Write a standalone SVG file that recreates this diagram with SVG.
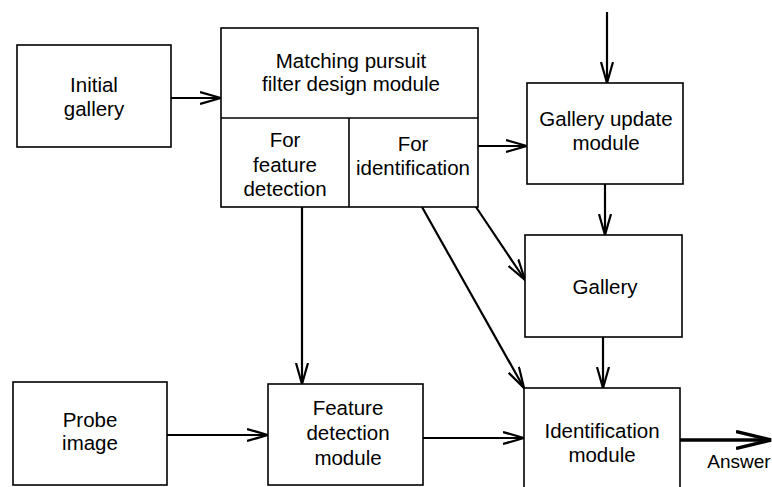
<svg xmlns="http://www.w3.org/2000/svg" width="772" height="487" viewBox="0 0 772 487">
  <style>
    .box { fill: #fff; stroke: #000; stroke-width: 1.6; }
    .lbl { font-family: "Liberation Sans", Arial, sans-serif; font-size: 20.5px; fill: #000; text-anchor: middle; }
    .edge { fill: none; stroke: #000; stroke-width: 2.2; marker-end: url(#head); }
    .edge-bold { fill: none; stroke: #000; stroke-width: 3.4; marker-end: url(#headBold); }
  </style>
  <defs>
    <marker id="head" viewBox="0 0 22 14" refX="21" refY="7" markerWidth="22" markerHeight="14" markerUnits="userSpaceOnUse" orient="auto">
      <path d="M0,1 L21,7 L0,13" fill="none" stroke="#000" stroke-width="2.2"/>
    </marker>
    <marker id="headBold" viewBox="0 0 36 20" refX="35" refY="10" markerWidth="36" markerHeight="20" markerUnits="userSpaceOnUse" orient="auto">
      <path d="M0,1.5 L35,10 L0,18.5" fill="none" stroke="#000" stroke-width="3.4"/>
    </marker>
  </defs>

  <!-- connectors -->
  <g id="connectors">
    <line class="edge" x1="171" y1="98" x2="221" y2="98"/>
    <line class="edge" x1="478" y1="146" x2="527" y2="146"/>
    <line class="edge" x1="607" y1="12" x2="607" y2="83"/>
    <line class="edge" x1="605" y1="184" x2="605" y2="235"/>
    <line class="edge" x1="603" y1="337" x2="603" y2="388"/>
    <line class="edge" x1="302" y1="207" x2="302" y2="384"/>
    <line class="edge" x1="422" y1="207" x2="524" y2="388"/>
    <line class="edge" x1="476" y1="207" x2="525" y2="280"/>
    <line class="edge" x1="167" y1="435" x2="268" y2="435"/>
    <line class="edge" x1="423" y1="438" x2="524" y2="438"/>
    <line class="edge-bold" x1="680" y1="440" x2="771" y2="440"/>
  </g>

  <!-- nodes -->
  <g id="initial-gallery">
    <rect class="box" x="17" y="45" width="154" height="102"/>
    <text class="lbl" x="94" y="92">Initial</text>
    <text class="lbl" x="94" y="116">gallery</text>
  </g>

  <g id="mp-filter-design">
    <rect class="box" x="221" y="28" width="257" height="179"/>
    <line x1="221" y1="118" x2="478" y2="118" stroke="#000" stroke-width="1.6"/>
    <line x1="349" y1="118" x2="349" y2="207" stroke="#000" stroke-width="1.6"/>
    <text class="lbl" x="351" y="68">Matching pursuit</text>
    <text class="lbl" x="351" y="91">filter design module</text>
  </g>

  <g id="for-feature-detection">
    <text class="lbl" x="285" y="147">For</text>
    <text class="lbl" x="285" y="172">feature</text>
    <text class="lbl" x="285" y="196">detection</text>
  </g>

  <g id="for-identification">
    <text class="lbl" x="413" y="151">For</text>
    <text class="lbl" x="413" y="175">identification</text>
  </g>

  <g id="gallery-update">
    <rect class="box" x="527" y="83" width="156" height="101"/>
    <text class="lbl" x="606" y="126">Gallery update</text>
    <text class="lbl" x="606" y="150">module</text>
  </g>

  <g id="gallery">
    <rect class="box" x="525" y="235" width="157" height="102"/>
    <text class="lbl" x="605" y="294">Gallery</text>
  </g>

  <g id="probe-image">
    <rect class="box" x="13" y="382" width="154" height="103"/>
    <text class="lbl" x="90" y="427">Probe</text>
    <text class="lbl" x="90" y="450">image</text>
  </g>

  <g id="feature-detection">
    <rect class="box" x="268" y="384" width="155" height="101"/>
    <text class="lbl" x="348" y="415">Feature</text>
    <text class="lbl" x="348" y="440">detection</text>
    <text class="lbl" x="348" y="465">module</text>
  </g>

  <g id="identification">
    <rect class="box" x="524" y="388" width="156" height="104"/>
    <text class="lbl" x="602" y="438">Identification</text>
    <text class="lbl" x="602" y="462">module</text>
  </g>

  <g id="answer">
    <text class="lbl" x="739" y="468" style="font-size:19px">Answer</text>
  </g>
</svg>
